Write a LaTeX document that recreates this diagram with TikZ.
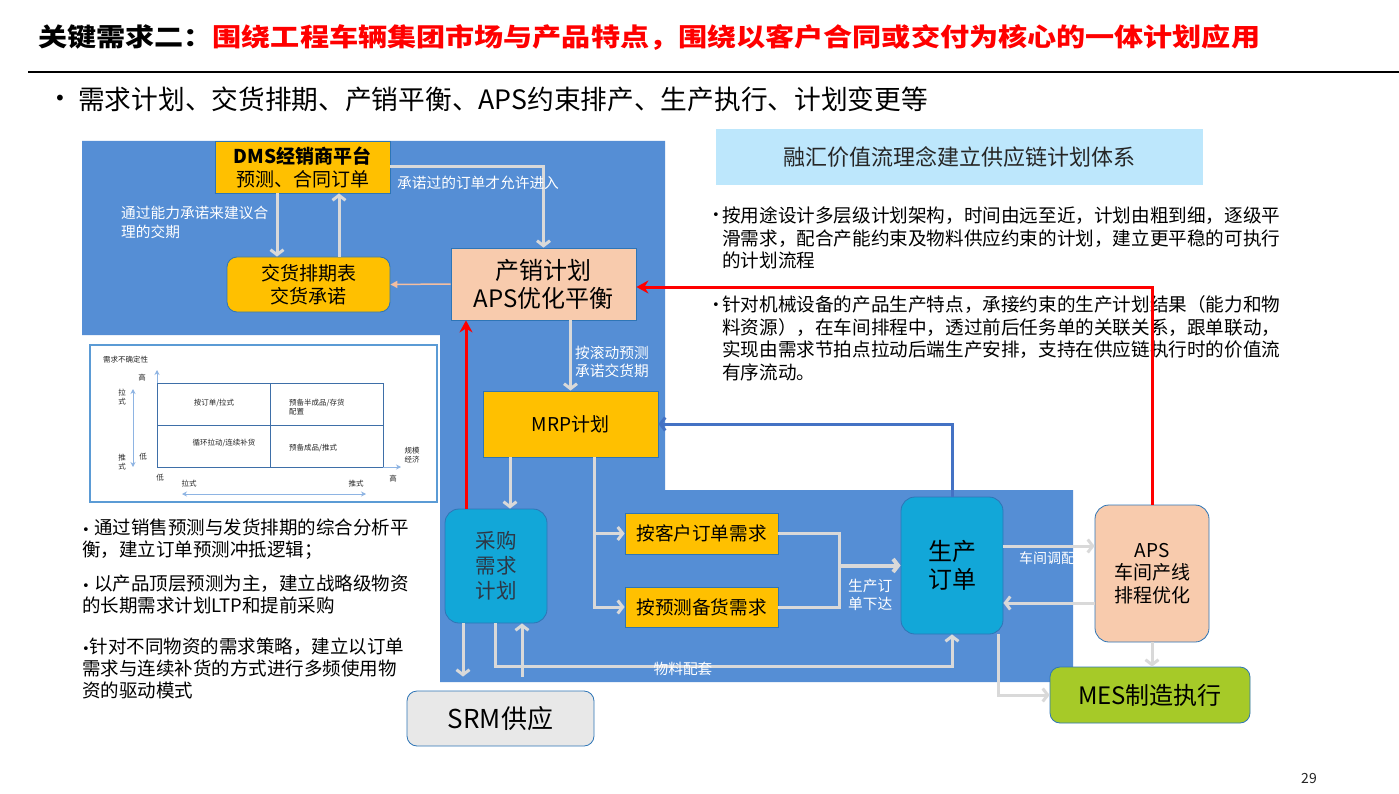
\documentclass[tikz,border=0pt]{standalone}
\usepackage{fontspec}
\setmainfont{Noto Sans CJK SC}
\newfontfamily\titlefont[FakeStretch=1.15]{Noto Sans CJK SC}
\newfontfamily\symfont{DejaVu Sans}
\usetikzlibrary{arrows.meta}

\definecolor{bluebg}{RGB}{85,142,213}
\definecolor{boxorange}{RGB}{255,192,0}
\definecolor{boxpeach}{RGB}{248,203,173}
\definecolor{boxcyan}{RGB}{18,167,216}
\definecolor{boxgreen}{RGB}{166,202,40}
\definecolor{boxsky}{RGB}{189,231,252}
\definecolor{boxgray}{RGB}{232,232,232}
\definecolor{edgeblue}{RGB}{46,117,182}
\definecolor{flowgray}{RGB}{217,217,217}
\definecolor{flowblue}{RGB}{68,114,196}
\definecolor{flowpeach}{RGB}{244,190,160}
\definecolor{chartblue}{RGB}{91,155,213}
\definecolor{chartgrid}{RGB}{62,111,168}
\definecolor{chartarr}{RGB}{142,180,227}
\definecolor{textdark}{RGB}{38,38,38}
\definecolor{textgrayblue}{RGB}{45,55,70}

\newcommand{\setfs}[2]{\fontsize{#1}{#2}\selectfont}
\newcommand{\dotmark}{{\symfont\fontsize{13}{13}\selectfont •}}

\tikzset{
  box/.style={draw=edgeblue, line width=0.8pt, align=center, inner sep=0pt, text=black},
  orangebox/.style={box, fill=boxorange},
  peachbox/.style={box, fill=boxpeach},
  cyanbox/.style={box, fill=boxcyan, rounded corners=14pt},
  flow/.style={draw=flowgray, line width=3pt, -{Straight Barb[length=5pt,width=13pt]}},
  flowline/.style={draw=flowgray, line width=3pt},
  peachflow/.style={draw=flowpeach, line width=1.5pt, -{Triangle[length=7pt,width=7pt]}},
  redflow/.style={draw=red, line width=3pt, -{Stealth[length=12pt,width=13pt]}},
  blueflow/.style={draw=flowblue, line width=3pt, -{Straight Barb[length=5pt,width=13pt]}},
  whitelabel/.style={text=white, font=\setfs{14.7}{18.5}, align=left, inner sep=0pt},
  note/.style={text=black, align=left, inner sep=0pt, font=\setfs{18.6}{22.5}},
  leftnote/.style={text=black, align=left, inner sep=0pt, font=\setfs{18.5}{22}},
  charttext/.style={text=textdark, font=\setfs{7.5}{9}, inner sep=0pt, align=center},
  chartarrow/.style={draw=chartarr, line width=1pt, -{Stealth[length=5pt,width=5pt]}},
  chartarrows/.style={draw=chartarr, line width=1pt, {Stealth[length=5pt,width=5pt]}-{Stealth[length=5pt,width=5pt]}},
}

\begin{document}
\begin{tikzpicture}[x=1pt,y=-1pt]
\useasboundingbox (0,0) rectangle (1399,794);
\fill[white] (0,0) rectangle (1399,794);

% title
\node[anchor=west, inner sep=0pt, font=\titlefont\bfseries\setfs{25.3}{30}] (title) at (38,37)
  {关键需求二：\textcolor{red}{围绕工程车辆集团市场与产品特点，围绕以客户合同或交付为核心的一体计划应用}};
\draw[line width=1.2pt] (28,72) -- (1399,72);
\node[inner sep=0pt, font=\symfont\setfs{20}{22}] (dot0) at (60,100) {•};
\node[anchor=west, inner sep=0pt, font=\setfs{26.7}{30}] (sub) at (78,99)
  {需求计划、交货排期、产销平衡、APS约束排产、生产执行、计划变更等};

% blue background
\fill[bluebg] (82,141) -- (665,141) -- (665,490) -- (1073,490) -- (1073,682)
  -- (440,682) -- (440,335) -- (82,335) -- cycle;

% small chart
\draw[chartblue, line width=1.5pt, fill=white] (90,345) rectangle (437,502);
\draw[chartgrid, line width=0.9pt] (157,383) rectangle (383,467);
\draw[chartgrid, line width=0.9pt] (270,383) -- (270,467) (157,425) -- (383,425);
\draw[chartarrow] (157,383) -- (157,370);
\draw[chartarrow] (383,467) -- (401,467);
\draw[chartarrows] (133,389) -- (133,467);
\draw[chartarrows] (182,494) -- (366,494);
\node[charttext, anchor=west] (ct1) at (103,360) {需求不确定性};
\node[charttext] (ct2) at (142,378) {高};
\node[charttext] (ct3) at (122,397.5) {拉\\式};
\node[charttext] (ct4) at (122,462) {推\\式};
\node[charttext] (ct5) at (143,457) {低};
\node[charttext] (ct6) at (160,478) {低};
\node[charttext] (ct7) at (189,484) {拉式};
\node[charttext] (ct8) at (356,484) {推式};
\node[charttext] (ct9) at (393,479) {高};
\node[charttext] (ct10) at (412,455) {规模\\经济};
\node[charttext] (ct11) at (214,403) {按订单/拉式};
\node[charttext, anchor=west, align=left] (ct12) at (289,407.5) {预备半成品/存货\\配置};
\node[charttext] (ct13) at (224,443) {循环拉动/连续补货};
\node[charttext, anchor=west] (ct14) at (289,448) {预备成品/推式};

% boxes
\node[orangebox, minimum width=175pt, minimum height=52pt, font=\setfs{19}{23}] (dms) at (302.5,167)
  {\textbf{DMS经销商平台}\\预测、合同订单};
\node[orangebox, rounded corners=10pt, minimum width=163pt, minimum height=55pt, font=\setfs{19}{23}] (jh) at (308.5,284.5)
  {交货排期表\\交货承诺};
\node[peachbox, minimum width=185pt, minimum height=72pt, font=\setfs{24}{28}] (cx) at (543.5,284)
  {产销计划\\APS优化平衡};
\node[orangebox, minimum width=175pt, minimum height=66pt, font=\setfs{19}{23}] (mrp) at (570.5,424) {MRP计划};
\node[cyanbox, minimum width=102pt, minimum height=114pt, font=\setfs{20.5}{25}, text=textgrayblue] (cg) at (496,566)
  {采购\\需求\\计划};
\node[orangebox, minimum width=153pt, minimum height=41pt, font=\setfs{18.6}{22}] (kh) at (701.5,533.5) {按客户订单需求};
\node[orangebox, minimum width=153pt, minimum height=40pt, font=\setfs{18.6}{22}] (yc) at (701.5,607) {按预测备货需求};
\node[cyanbox, minimum width=102pt, minimum height=137pt, font=\setfs{24}{28}] (sc) at (952,565.5) {生产\\订单};
\node[peachbox, rounded corners=14pt, minimum width=114pt, minimum height=137pt, font=\setfs{19}{22.5}] (aps) at (1152,573.5)
  {APS\\车间产线\\排程优化};
\node[box, fill=boxgreen, rounded corners=10pt, minimum width=200pt, minimum height=56pt, font=\setfs{24}{28}] (mes) at (1150,695)
  {MES制造执行};
\node[box, fill=boxgray, rounded corners=10pt, minimum width=187pt, minimum height=55pt, font=\setfs{26}{30}] (srm) at (500.5,718.5)
  {SRM供应};
\node[fill=boxsky, inner sep=0pt, minimum width=487pt, minimum height=56pt, font=\setfs{22}{26}, text=textdark] (rh) at (959.5,157)
  {融汇价值流理念建立供应链计划体系};

% right notes
\node[inner sep=0pt] (dot1) at (716,216) {\dotmark};
\node[note, anchor=west] (p1) at (722,238)
  {按用途设计多层级计划架构，时间由远至近，计划由粗到细，逐级平\\
   滑需求，配合产能约束及物料供应约束的计划，建立更平稳的可执行\\
   的计划流程};
\node[inner sep=0pt] (dot2) at (716,306) {\dotmark};
\node[note, anchor=west] (p2) at (722,338.5)
  {针对机械设备的产品生产特点，承接约束的生产计划结果（能力和物\\
   料资源），在车间排程中，透过前后任务单的关联关系，跟单联动，\\
   实现由需求节拍点拉动后端生产安排，支持在供应链执行时的价值流\\
   有序流动。};

% left notes
\node[leftnote, anchor=west] (q1) at (82,539)
  {\dotmark\ 通过销售预测与发货排期的综合分析平\\衡，建立订单预测冲抵逻辑；};
\node[leftnote, anchor=west] (q2) at (82,594)
  {\dotmark\ 以产品顶层预测为主，建立战略级物资\\的长期需求计划LTP和提前采购};
\node[leftnote, anchor=west] (q3) at (82,668)
  {\dotmark 针对不同物资的需求策略，建立以订单\\需求与连续补货的方式进行多频使用物\\资的驱动模式};

% connectors
\coordinate (d1) at ([xshift=-25.5pt]dms.south);
\coordinate (d2) at ([xshift=36.5pt]dms.south);
\draw[flow] (d1) -- (d1 |- jh.north);
\draw[flow] (d2 |- jh.north) -- (d2);
\draw[flow] (dms.east) -| (cx.north);
\draw[peachflow] (cx.west) -- (jh.east);
\draw[flow] (cx.south -| mrp.north) -- (mrp.north);
\coordinate (m1) at ([xshift=-60.5pt]mrp.south);
\draw[flow] (m1) -- (m1 |- cg.north);
\coordinate (m2) at ([xshift=23.5pt]mrp.south);
\draw[flow] (m2) |- (kh.west);
\draw[flow] (m2) |- (yc.west);
\coordinate (jn) at (839,565.5);
\draw[flowline] (kh.east) -| (jn) |- (yc.east);
\draw[flow, line width=4pt] (jn) -- (jn -| sc.west);
\draw[blueflow] (sc.north) |- (mrp.east);
\coordinate (c1) at ([xshift=-33pt]cg.south);
\coordinate (c2) at ([xshift=26pt]cg.south);
\coordinate (c3) at ([xshift=-1pt]cg.south);
\draw[flow, shorten >=14pt] (c1) -- (c1 |- srm.north);
\draw[flow, shorten <=14pt] (c2 |- srm.north) -- (c2);
\draw[flow] (c3) -- ++(0,43) -| (sc.south);
\coordinate (s1) at ([yshift=19.5pt]sc.east);
\coordinate (s2) at ([yshift=-37.5pt]sc.east);
\draw[flow] (s1) -- (s1 -| aps.west);
\draw[flow] (s2 -| aps.west) -- (s2);
\coordinate (s3) at ([xshift=46pt]sc.south);
\draw[flow] (s3) |- (mes.west);
\draw[flow] (aps.south) -- (aps.south |- mes.north);
\coordinate (r1) at ([xshift=-30pt]cg.north);
\draw[redflow] (r1) -- (r1 |- cx.south);
\coordinate (r2) at ([yshift=-3pt]cx.east);
\draw[redflow] (aps.north) |- (r2);

% labels
\node[whitelabel, anchor=west] (lb1) at (397,183) {承诺过的订单才允许进入};
\node[whitelabel, anchor=west] (lb2) at (121,222.5) {通过能力承诺来建议合\\理的交期};
\node[whitelabel, anchor=west] (lb3) at (575,362) {按滚动预测\\承诺交货期};
\node[whitelabel, anchor=west] (lb4) at (848,595) {生产订\\单下达};
\node[whitelabel, anchor=west, font=\setfs{14}{17}] (lb5) at (1019,558) {车间调配};
\node[whitelabel] (lb6) at (683,669) {物料配套};

% page number
\node[inner sep=0pt, font=\setfs{14}{16}, text=textdark] (pg) at (1309,779) {29};
\end{tikzpicture}
\end{document}
